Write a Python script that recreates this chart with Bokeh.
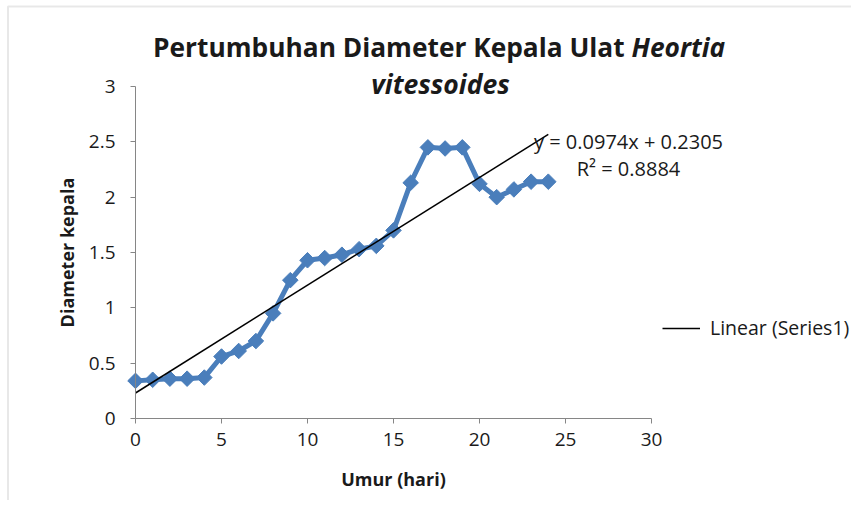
import numpy as np
from bokeh.plotting import figure
from bokeh.models import Label, Legend, LegendItem, FixedTicker, Range1d, BoxAnnotation
from bokeh.embed import file_html
from bokeh.resources import INLINE

umur = list(range(0, 25))
diameter = [0.34, 0.35, 0.36, 0.36, 0.37, 0.56, 0.61, 0.70, 0.95, 1.25,
            1.43, 1.45, 1.48, 1.53, 1.56, 1.70, 2.13, 2.45, 2.44, 2.45,
            2.12, 2.00, 2.07, 2.14, 2.14]
x_ticks = [0, 5, 10, 15, 20, 25, 30]
y_ticks = [0, 0.5, 1, 1.5, 2, 2.5, 3]
y_tick_labels = ["0", "0.5", "1", "1.5", "2", "2.5", "3"]
trend_slope = 0.0974
trend_intercept = 0.2305
r_squared = 0.8884

trend_x = [umur[0], umur[-1]]
trend_y = [trend_intercept + trend_slope * v for v in trend_x]

FONT = "Open Sans"
BLUE = "#4A7EBB"
GREY = "#868686"
TXT = "#1a1a1a"

W, H = 851, 500
# plot area (pixels in the canvas) for the axis extents 0..30 and 0..3
PX0, PX1, PY0, PY1 = 135, 651, 418, 86
sx = (PX1 - PX0) / 30.0
sy = (PY0 - PY1) / 3.0
x_range = Range1d(-PX0 / sx, 30 + (W - PX1) / sx)
y_range = Range1d(-(H - PY0) / sy, 3 + PY1 / sy)

def dx(px):
    return (px - PX0) / sx

def dy(py):
    return (PY0 - py) / sy

p = figure(width=W, height=H, output_backend="svg", toolbar_location=None,
           x_range=x_range, y_range=y_range,
           min_border=0)
p.outline_line_color = None
p.xgrid.visible = False
p.ygrid.visible = False

# chart-area border (only its left and top edges are inside the picture)
p.add_layout(BoxAnnotation(left=dx(7.5), top=dy(6), right=dx(W + 20), bottom=dy(H + 20),
                           fill_alpha=0, line_color="#b4b4b4", line_width=2))

for ax in (p.xaxis[0], p.yaxis[0]):
    ax.axis_line_color = GREY
    ax.major_tick_line_color = GREY
    ax.minor_tick_line_color = None
    ax.major_tick_in = 0
    ax.major_tick_out = 5
    ax.major_label_text_font = FONT
    ax.major_label_text_font_size = "19px"
    ax.major_label_text_color = TXT
    ax.axis_label_text_font = FONT
    ax.axis_label_text_font_size = "18px"
    ax.axis_label_text_font_style = "bold"
    ax.axis_label_text_color = TXT

p.xaxis.fixed_location = 0
p.yaxis.fixed_location = 0
p.xaxis.bounds = (0, 30)
p.yaxis.bounds = (0, 3)
p.xaxis.ticker = FixedTicker(ticks=x_ticks)
p.yaxis.ticker = FixedTicker(ticks=y_ticks)
p.yaxis.major_label_overrides = {t: s for t, s in zip(y_ticks, y_tick_labels)}
p.xaxis.axis_label = "Umur (hari)"
p.yaxis.axis_label = "Diameter kepala"
p.xaxis.major_label_standoff = 9
p.yaxis.major_label_standoff = 15
p.xaxis.axis_label_standoff = 18
p.yaxis.axis_label_standoff = 7

p.line(umur, diameter, line_color=BLUE, line_width=5)
p.scatter(umur, diameter, marker="square", size=11, angle=np.pi / 4,
          fill_color=BLUE, line_color=BLUE)
trend = p.line(trend_x, trend_y, line_color="black", line_width=1.5)

legend = Legend(items=[LegendItem(label="Linear (Series1)", renderers=[trend])],
                location=(662, H - 328 - 13), border_line_color=None,
                background_fill_alpha=0, padding=0, margin=0,
                glyph_width=38, label_standoff=10,
                label_text_font=FONT, label_text_font_size="19.5px",
                label_text_color=TXT)
p.add_layout(legend, "center")

def label(px, py, text, size, style="normal", align="center"):
    p.add_layout(Label(x=dx(px), y=dy(py), text=text, text_align=align,
                       text_baseline="middle", text_font=FONT,
                       text_font_size=size, text_font_style=style,
                       text_color=TXT))

label(628, 141, "y = %.4fx + %.4f" % (trend_slope, trend_intercept), "20px")
label(628, 168, "R² = %.4f" % r_squared, "20px")
label(631, 46, "Pertumbuhan Diameter Kepala Ulat ", "26.3px", "bold", "right")
label(631, 46, "Heortia", "26.3px", "bold italic", "left")
label(440, 83, "vitessoides", "26.5px", "bold italic", "center")

open("out.html", "w").write(file_html(p, INLINE))
